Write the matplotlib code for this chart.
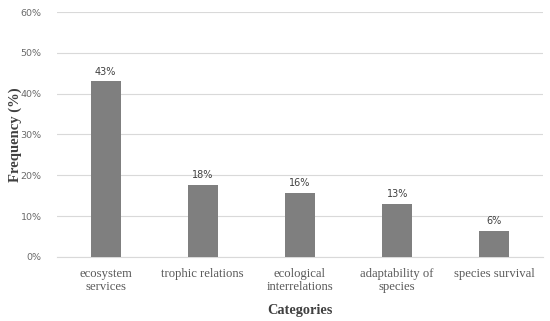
import matplotlib
matplotlib.use('Agg')
import matplotlib.pyplot as plt
import numpy as np

categories = ['ecosystem\nservices', 'trophic relations', 'ecological\ninterrelations',
              'adaptability of\nspecies', 'species survival']
values = [43.0, 17.6, 15.6, 13.1, 6.4]
labels = ['43%', '18%', '16%', '13%', '6%']
yticks = [0, 10, 20, 30, 40, 50, 60]

fig = plt.figure(figsize=(5.5, 3.21), dpi=100)
ax = fig.add_axes([0.1036, 0.1994, 0.8836, 0.7632])

x = np.arange(len(categories))
ax.bar(x, values, width=0.31, color='#7f7f7f', zorder=3)
for xi, v, lab in zip(x, values, labels):
    ax.text(xi, v + 1.2, lab, ha='center', va='bottom', fontsize=7,
            color='#404040', family='DejaVu Sans')

ax.set_xlim(-0.5, len(categories) - 0.5)
ax.set_ylim(0, 60)
ax.set_yticks(yticks)
ax.set_yticklabels([f'{t}%' for t in yticks], fontsize=6.8, color='#6a6a6a',
                   family='DejaVu Sans')
ax.set_xticks(x)
ax.set_xticklabels(categories, fontsize=9.1, color='#595959', family='Liberation Serif',
                   linespacing=1.05)
ax.tick_params(axis='x', length=0, pad=8)
ax.tick_params(axis='y', length=0, pad=11)
ax.grid(axis='y', color='#d9d9d9', linewidth=0.8, zorder=0)
for s in ['top', 'right', 'left']:
    ax.spines[s].set_visible(False)
ax.spines['bottom'].set_color('#d9d9d9')

ax.set_xlabel('Categories', fontsize=10.3, fontweight='bold', color='#404040',
              family='Liberation Serif')
ax.xaxis.set_label_coords(0.5, -0.19)
ax.set_ylabel('Frequency (%)', fontsize=10.5, fontweight='bold', color='#404040',
              family='Liberation Serif')
ax.yaxis.set_label_coords(-0.072, 0.5)

fig.savefig('out.png', dpi=100)
